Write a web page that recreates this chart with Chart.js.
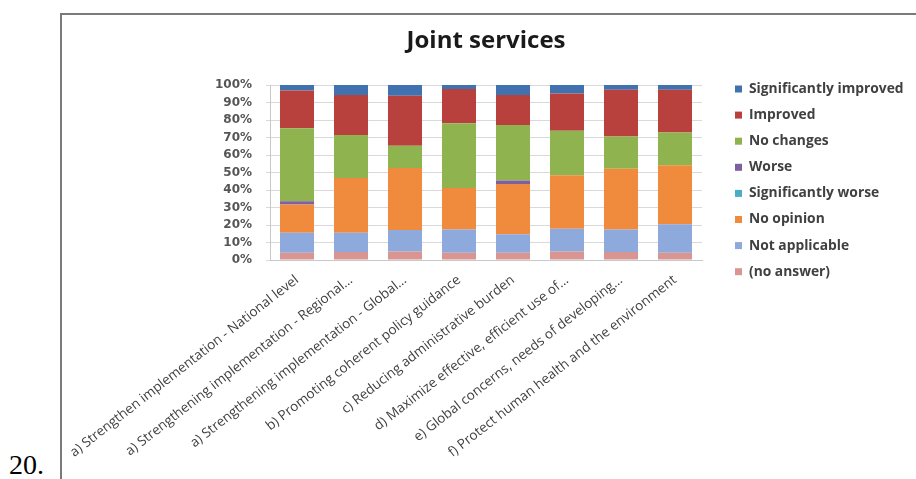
<!DOCTYPE html>
<html>
<head>
<meta charset="utf-8">
<script src="https://cdn.jsdelivr.net/npm/chart.js@4.4.1/dist/chart.umd.min.js"></script>
<style>
  html, body { margin: 0; padding: 0; background: #fff; width: 916px; height: 479px; overflow: hidden; }
  #wrap { position: relative; width: 916px; height: 479px; }
  #frame { position: absolute; left: 60px; top: 13px; right: -10px; bottom: -10px; border-left: 2px solid #7a7a7a; border-top: 2px solid #7a7a7a; }
  #num { position: absolute; left: 9px; top: 449px; font-family: "Liberation Serif", serif; font-size: 28px; color: #000; }
  canvas { position: absolute; left: 0; top: 0; }
</style>
</head>
<body>
<div id="wrap">
  <div id="frame"></div>
  <div id="num">20.</div>
  <canvas id="c" width="916" height="479"></canvas>
</div>
<script>
const categories = [
  "a) Strengthen implementation - National level",
  "a) Strengthening implementation - Regional…",
  "a) Strengthening implementation - Global…",
  "b) Promoting coherent policy guidance",
  "c) Reducing administrative burden",
  "d) Maximize effective, efficient use of…",
  "e) Global concerns, needs of developing…",
  "f) Protect human health and the environment"
];
const noAnswer        = [4.2, 4.6, 4.8, 4.2, 4.2, 4.8, 4.6, 4.2];
const notApplicable   = [11.4, 11.0, 12.3, 13.3, 10.5, 13.1, 12.9, 16.2];
const noOpinion       = [16.1, 31.3, 35.5, 23.7, 28.8, 30.5, 34.7, 33.7];
const sigWorse        = [0, 0, 0, 0, 0, 0, 0, 0];
const worse           = [1.9, 0, 0, 0, 1.9, 0, 0, 0];
const noChanges       = [41.7, 24.6, 12.7, 37.0, 31.8, 25.4, 18.4, 18.8];
const improved        = [21.5, 22.8, 28.6, 19.5, 17.1, 21.4, 26.7, 24.4];
const sigImproved     = [3.2, 5.7, 6.1, 2.3, 5.7, 4.8, 2.7, 2.7];
const yTicks = [0, 10, 20, 30, 40, 50, 60, 70, 80, 90, 100];

const seriesNames = ["(no answer)", "Not applicable", "No opinion", "Significantly worse", "Worse", "No changes", "Improved", "Significantly improved"];
const seriesData = [noAnswer, notApplicable, noOpinion, sigWorse, worse, noChanges, improved, sigImproved];
const seriesColors = ["#D99592", "#8EA9DB", "#F08A3C", "#4BACC6", "#7E5FA0", "#8FB44F", "#B8403D", "#3F72AE"];

const customLegend = {
  id: 'customLegend',
  afterDraw(chart) {
    const ctx = chart.ctx;
    const ds = chart.data.datasets.slice().reverse();
    ctx.save();
    ctx.font = "bold 13.8px 'Open Sans'";
    ctx.textBaseline = 'middle';
    ds.forEach((d, i) => {
      const y = 89 + i * 26.1;
      ctx.fillStyle = d.backgroundColor;
      ctx.fillRect(735, y - 3.5, 7, 7);
      ctx.fillStyle = '#404040';
      ctx.fillText(d.label, 749, y);
    });
    ctx.restore();
  }
};

new Chart(document.getElementById('c'), {
  type: 'bar',
  data: {
    labels: categories,
    datasets: seriesNames.map((n, i) => ({
      label: n,
      data: seriesData[i],
      backgroundColor: seriesColors[i],
      borderWidth: 0,
      categoryPercentage: 1,
      barPercentage: 0.63
    }))
  },
  options: {
    responsive: false,
    animation: false,
    layout: { padding: { left: 0, right: 214, top: 0, bottom: 0 } },
    plugins: {
      legend: { display: false },
      tooltip: { enabled: false },
      title: {
        display: true,
        text: 'Joint services',
        fullSize: false,
        color: '#1a1a1a',
        font: { family: "'Open Sans'", size: 24, weight: 'bold', lineHeight: 1.2 },
        padding: { top: 26.6, bottom: 29.6 }
      }
    },
    scales: {
      x: {
        stacked: true,
        grid: { display: false, drawTicks: false },
        border: { color: '#c8c8c8' },
        ticks: {
          autoSkip: false,
          minRotation: 38,
          maxRotation: 38,
          padding: 12,
          color: '#404040',
          font: { family: "'Open Sans'", size: 13.5 }
        },
        afterFit(s) { s.height = 219; }
      },
      y: {
        stacked: true,
        min: 0,
        max: 100,
        afterBuildTicks(s) { s.ticks = yTicks.map(v => ({ value: v })); },
        grid: { color: '#d9d9d9', tickLength: 4 },
        border: { color: '#c8c8c8' },
        ticks: {
          padding: 14,
          color: '#555555',
          font: { family: "'DejaVu Sans'", size: 12, weight: 'bold' },
          callback: v => v + '%'
        },
        afterFit(s) { s.width = 270; }
      }
    }
  },
  plugins: [customLegend]
});
</script>
</body>
</html>
